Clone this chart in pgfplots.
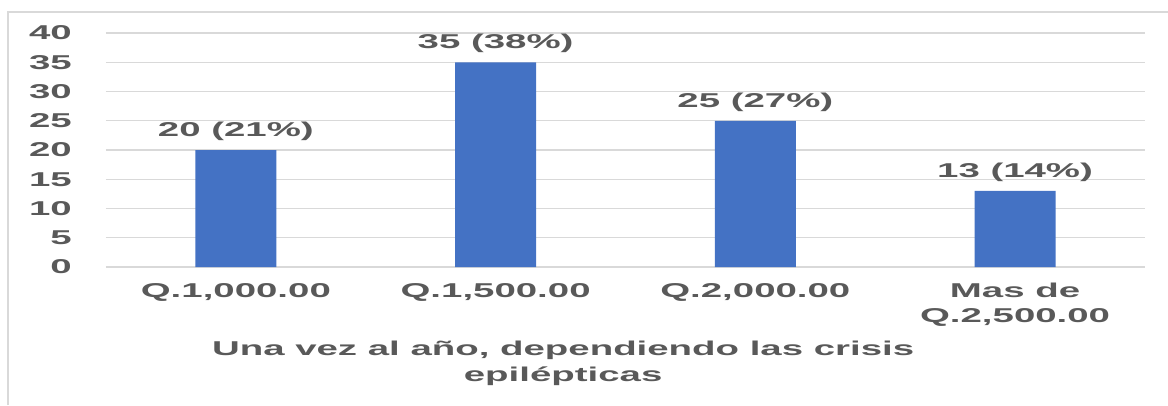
\documentclass[border=0pt]{standalone}
\usepackage{pgfplots}
\pgfplotsset{compat=1.18}
\usepackage{fontspec}
\setmainfont[FakeStretch=1.92]{Liberation Sans}
\definecolor{txt}{HTML}{595959}
\definecolor{barc}{HTML}{4472C4}
\definecolor{grd}{HTML}{D9D9D9}
\begin{document}
\begin{tikzpicture}[x=1pt,y=1pt]
\path[use as bounding box] (0,0) rectangle (1168,405);
\draw[grd, line width=1.5pt] (8,0) -- (8,393) -- (1168,393);
\begin{axis}[
  at={(106pt,138pt)}, anchor=south west,
  scale only axis, width=1039pt, height=234pt,
  xmin=-0.5, xmax=3.5, ymin=0, ymax=40,
  ytick={0,5,...,40},
  xtick=data,
  xticklabels={{Q.1,000.00},{Q.1,500.00},{Q.2,000.00},{Mas de\\Q.2,500.00}},
  axis line style={draw=none},
  major tick length=0pt,
  ymajorgrids, grid style={grd, line width=1.3pt},
  /pgf/number format/assume math mode=true,
  yticklabel style={font=\bfseries\fontsize{20}{24}\selectfont, text=txt, anchor=east, inner sep=0pt, xshift=-34pt},
  xticklabel style={font=\bfseries\fontsize{20}{25}\selectfont, text=txt, anchor=north, align=center, inner sep=0pt, yshift=-16pt},
  xlabel={Una vez al año, dependiendo las crisis\\epilépticas},
  xlabel style={font=\bfseries\fontsize{20}{26}\selectfont, text=txt, align=center, at={(axis description cs:0.44,0)}, anchor=north, inner sep=0pt, yshift=-74pt},
  ybar, bar width=81pt,
  point meta=explicit symbolic,
  nodes near coords,
  nodes near coords style={font=\bfseries\fontsize{20}{24}\selectfont, text=txt, anchor=south, inner sep=0pt, yshift=9pt},
]
\addplot[fill=barc, draw=none] coordinates {
  (0,20) [20 (21\%)]
  (1,35) [35 (38\%)]
  (2,25) [25 (27\%)]
  (3,13) [13 (14\%)]
};
\end{axis}
\end{tikzpicture}
\end{document}
